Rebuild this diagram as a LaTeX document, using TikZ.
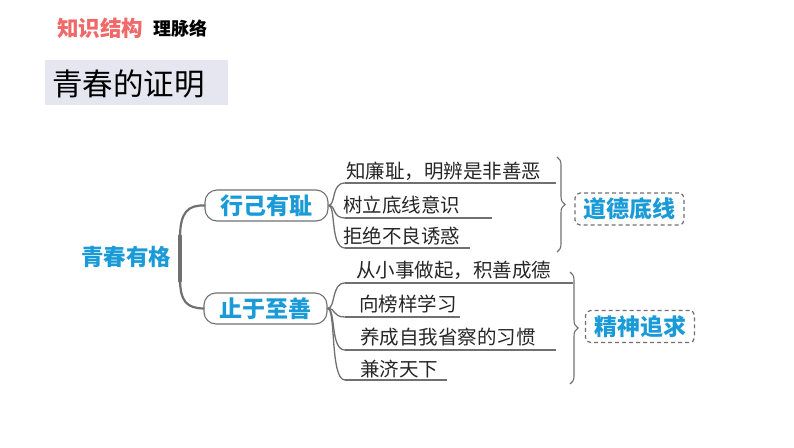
\documentclass[tikz,border=0pt]{standalone}
\usepackage{fontspec}
\newfontfamily\cjk{Noto Sans CJK SC}
\usetikzlibrary{decorations.pathreplacing}
\definecolor{tblue}{HTML}{1A9AD6}
\definecolor{tred}{HTML}{F06868}
\definecolor{lgray}{HTML}{707070}
\definecolor{boxbg}{HTML}{E6E6F0}
\tikzset{
  hand/.style={font=\cjk\fontsize{19.5}{20}\selectfont, text=black!85, inner sep=0pt, anchor=south west},
  keynode/.style={draw=lgray, line width=1.1pt, rounded corners=12pt, minimum width=123pt, minimum height=31pt, inner sep=0pt, text=tblue, font=\cjk\bfseries\fontsize{23}{24}\selectfont},
  dashnode/.style={draw=lgray, dashed, dash pattern=on 4pt off 3pt, line width=1.2pt, rounded corners=5pt, minimum width=109pt, minimum height=32pt, inner sep=0pt, text=tblue, font=\cjk\bfseries\fontsize{23}{24}\selectfont},
  branch/.style={draw=lgray, line width=1.3pt},
  uline/.style={draw=lgray, line width=1.3pt},
  bracestyle/.style={draw=lgray, line width=1.1pt, decorate, decoration={brace, amplitude=8pt}}
}
\begin{document}
\begin{tikzpicture}[x=1pt,y=-1pt]
\useasboundingbox (0,0) rectangle (794,447);
% header
\node[anchor=west, inner sep=0pt, text=tred, font=\cjk\bfseries\fontsize{21.5}{22}\selectfont] (hd1) at (57,28) {知识结构};
\node[anchor=west, inner sep=0pt, text=black, font=\cjk\bfseries\fontsize{18}{19}\selectfont] (hd2) at (153,29) {理脉络};
\fill[boxbg] (45,60) rectangle (228,105);
\node[anchor=west, inner sep=0pt, text=black, font=\cjk\fontsize{30.5}{31}\selectfont] (title) at (52,84) {青春的证明};
% root
\node[inner sep=0pt, text=tblue, font=\cjk\bfseries\fontsize{22.5}{23}\selectfont] (root) at (126,257) {青春有格};
\node[keynode] (k1) at (266.5,205.5) {行己有耻};
\node[keynode] (k2) at (265.5,308.5) {止于至善};
% main brace
\draw[lgray, line width=2.2pt, line cap=round] (k1.west) .. controls (188,205) and (180,212) .. (180,238) -- (180,278) .. controls (180,302) and (187,308) .. (k2.west);
\draw[lgray, line width=4pt, line cap=round] (180,236) -- (180,281);
% group 1 items
\coordinate (a1s) at (345,183); \coordinate (a1e) at (556,183);
\coordinate (a2s) at (345,218); \coordinate (a2e) at (492,218);
\coordinate (a3s) at (345,248); \coordinate (a3e) at (470,248);
\node[hand] (a1) at (346,181) {知廉耻，明辨是非善恶};
\node[hand] (a2) at (343,214) {树立底线意识};
\node[hand] (a3) at (343,245) {拒绝不良诱惑};
\draw[uline] (a1s) -- (a1e);
\draw[uline] (a2s) -- (a2e);
\draw[uline] (a3s) -- (a3e);
\draw[branch] (k1.east) .. controls (336,205) and (331,183) .. (a1s);
\draw[branch] (k1.east) .. controls (336,205) and (332,218) .. (a2s);
\draw[branch] (k1.east) .. controls (336,205) and (330,248) .. (a3s);
% group 2 items
\coordinate (b1s) at (345,283); \coordinate (b1e) at (573,283);
\coordinate (b2s) at (345,317); \coordinate (b2e) at (460,317);
\coordinate (b3s) at (345,350); \coordinate (b3e) at (556,350);
\coordinate (b4s) at (345,380); \coordinate (b4e) at (447,380);
\node[hand] (b1) at (356,280) {从小事做起，积善成德};
\node[hand] (b2) at (359,313) {向榜样学习};
\node[hand] (b3) at (360,346) {养成自我省察的习惯};
\node[hand] (b4) at (360,378) {兼济天下};
\draw[uline] (b1s) -- (b1e);
\draw[uline] (b2s) -- (b2e);
\draw[uline] (b3s) -- (b3e);
\draw[uline] (b4s) -- (b4e);
\draw[branch] (k2.east) .. controls (336,308) and (331,283) .. (b1s);
\draw[branch] (k2.east) .. controls (336,308) and (332,317) .. (b2s);
\draw[branch] (k2.east) .. controls (336,308) and (330,350) .. (b3s);
\draw[branch] (k2.east) .. controls (336,308) and (330,380) .. (b4s);
% braces
\coordinate (br1t) at (557,157); \coordinate (br1b) at (557,252);
\coordinate (br2t) at (570,272); \coordinate (br2b) at (570,384);
\draw[bracestyle] (br1t) -- (br1b);
\draw[bracestyle] (br2t) -- (br2b);
\node[dashnode] (d1) at (629.5,209) {道德底线};
\node[dashnode] (d2) at (640,326.5) {精神追求};
\end{tikzpicture}
\end{document}
